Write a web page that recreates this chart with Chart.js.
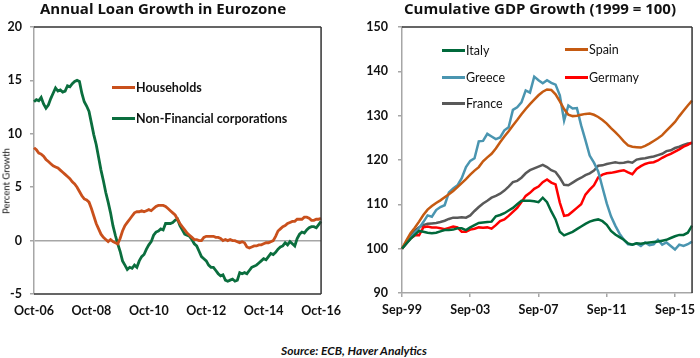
<!DOCTYPE html>
<html>
<head>
<meta charset="utf-8">
<script src="https://cdn.jsdelivr.net/npm/chart.js@4.4.0/dist/chart.umd.min.js"></script>
<style>
  body { margin: 0; background: #fff; font-family: Lato, sans-serif; color: #111; }
  #page { position: relative; width: 700px; height: 358px; overflow: hidden; }
  .wrap { position: absolute; top: 0; width: 350px; height: 325px; }
  .title { position: absolute; top: -2px; font-family: 'Open Sans', sans-serif; font-weight: bold; font-size: 15px; white-space: nowrap; transform: translateX(-50%); }
  .ytitle { position: absolute; font-size: 9.5px; white-space: nowrap; transform: translate(-50%, -50%) rotate(-90deg); }
  .key { position: absolute; height: 3px; width: 23px; }
  .lab { position: absolute; font-size: 12.5px; white-space: nowrap; transform: translateY(-50%); }
  .src { position: absolute; left: 354px; top: 350px; transform: translate(-50%, -50%); font-size: 12px; font-weight: bold; font-style: italic; white-space: nowrap; }
</style>
</head>
<body>
<div id="page">
  <div class="wrap" style="left:0"><canvas id="loanChart"></canvas></div>
  <div class="wrap" style="left:350px"><canvas id="gdpChart"></canvas></div>
  <div class="title" style="left:163px">Annual Loan Growth in Eurozone</div>
  <div class="title" style="left:540px">Cumulative GDP Growth (1999 = 100)</div>
  <div class="ytitle" style="left:6px; top:181px">Percent Growth</div>
  <div id="legends"></div>
  <div class="src">Source: ECB, Haver Analytics</div>
</div>
<script>
// left chart: monthly, Oct-06 .. Oct-16
const loanTicks = ['Oct-06', 'Oct-08', 'Oct-10', 'Oct-12', 'Oct-14', 'Oct-16'];
const households = [
  8.7, 8.5, 8.2, 8.1, 7.9, 7.6, 7.4, 7.2, 7.0, 6.9, 6.8, 6.6, 6.4, 6.2, 6.0, 5.8, 5.5, 5.3, 5.0, 4.6,
  4.2, 3.9, 3.8, 3.6, 3.0, 2.3, 1.6, 1.1, 0.6, 0.3, 0.1, -0.1, 0.1, -0.1, -0.2, -0.3, 0.2, 0.9, 1.4, 1.7,
  2.0, 2.3, 2.6, 2.7, 2.7, 2.8, 2.7, 2.8, 2.9, 2.8, 3.0, 3.2, 3.3, 3.3, 3.3, 3.2, 3.0, 2.8, 2.6, 2.4,
  2.0, 1.6, 1.3, 1.0, 0.7, 0.5, 0.3, 0.1, 0.1, 0.0, 0.0, 0.3, 0.4, 0.4, 0.4, 0.4, 0.3, 0.3, 0.2, 0.0,
  0.1, 0.0, 0.1, 0.0, 0.0, -0.1, -0.2, -0.1, -0.2, -0.6, -0.7, -0.6, -0.5, -0.5, -0.4, -0.4, -0.3, -0.2, -0.2, -0.1,
  0.0, 0.4, 0.9, 1.1, 1.3, 1.4, 1.6, 1.7, 1.8, 1.8, 2.0, 2.0, 2.0, 2.2, 2.2, 2.1, 1.9, 1.9, 2.0, 2.0,
  2.1
];
const nonFinancial = [
  13.0, 13.2, 13.1, 13.4, 12.8, 12.4, 12.7, 13.3, 13.8, 14.3, 14.0, 14.1, 13.9, 14.0, 14.5, 14.4, 14.7, 14.9, 15.0, 14.9,
  13.8, 13.0, 12.6, 12.1, 11.0, 9.9, 9.0, 7.8, 6.6, 5.6, 4.5, 3.6, 2.6, 1.4, 0.5, -0.3, -1.0, -1.9, -2.3, -2.7,
  -2.5, -2.6, -2.3, -2.5, -1.9, -1.5, -1.3, -0.8, -0.4, -0.1, 0.5, 0.8, 0.9, 1.1, 1.0, 1.6, 1.6, 1.6, 1.7, 1.9,
  2.0, 1.4, 1.0, 0.6, 0.5, 0.4, 0.1, -0.3, -0.5, -1.0, -1.5, -1.7, -1.9, -2.3, -2.5, -2.5, -2.8, -3.1, -3.3, -3.2,
  -3.7, -3.8, -3.7, -3.6, -3.8, -3.7, -3.0, -3.1, -3.0, -3.1, -2.8, -2.5, -2.4, -2.3, -2.1, -1.9, -1.7, -1.8, -1.5, -1.2,
  -1.3, -1.1, -0.8, -0.6, -0.5, -0.2, -0.4, -0.1, -0.3, -0.5, 0.2, 0.6, 0.8, 0.7, 1.0, 1.2, 1.3, 1.3, 1.2, 1.5,
  1.8
];

// right chart: quarterly, Sep-99 .. Sep-16
const gdpTicks = ['Sep-99', 'Sep-03', 'Sep-07', 'Sep-11', 'Sep-15'];
const italy = [
  100, 101.1, 102.2, 103.1, 104.0, 103.8, 103.6, 103.5, 103.6, 103.9, 104.2, 104.2, 104.3, 104.6, 104.6, 104.2, 104.8, 105.3, 105.8, 105.9,
  106.0, 106.1, 107.3, 107.6, 108.0, 108.6, 109.2, 110.0, 110.8, 110.8, 110.8, 110.7, 110.5, 111.5, 110.5, 108.4, 106.6, 103.8, 103.0, 103.4,
  103.8, 104.4, 105.0, 105.6, 106.1, 106.4, 106.6, 106.2, 105.4, 104.0, 103.2, 102.6, 102.0, 101.2, 100.9, 101.2, 101.1, 101.3, 101.4, 101.5,
  101.6, 101.8, 102.0, 102.4, 102.8, 103.1, 103.1, 103.6, 105.2
];
const spain = [
  100, 101.8, 103.5, 104.7, 106.1, 107.6, 108.8, 109.6, 110.3, 110.9, 111.6, 112.3, 113.0, 113.9, 114.8, 115.7, 116.7, 117.6, 118.4, 119.7,
  120.6, 121.4, 122.6, 124.0, 125.3, 126.5, 127.8, 129.0, 130.3, 131.5, 132.6, 133.6, 134.6, 135.4, 135.9, 135.8, 134.8, 133.2, 131.5, 130.2,
  129.9, 130.0, 130.2, 130.4, 130.5, 130.2, 129.7, 129.0, 128.2, 127.2, 126.3, 125.3, 124.2, 123.3, 123.0, 122.9, 122.8, 123.2, 123.7, 124.3,
  124.9, 125.6, 126.6, 127.6, 128.6, 129.9, 131.1, 132.3, 133.4
];
const greece = [
  100, 101.2, 102.4, 103.6, 104.6, 106.0, 107.5, 107.2, 108.7, 109.4, 109.8, 112.7, 113.6, 114.3, 115.9, 118.4, 119.8, 120.4, 124.2, 124.3,
  125.9, 125.3, 124.7, 125.1, 126.7, 127.4, 131.3, 131.9, 133.0, 135.7, 135.2, 138.8, 138.0, 137.3, 138.0, 137.4, 137.0, 134.6, 128.9, 132.3,
  131.6, 131.7, 127.8, 124.5, 121.0, 119.4, 117.4, 113.8, 110.2, 107.3, 105.2, 103.4, 102.0, 101.0, 100.9, 101.2, 100.6, 101.4, 100.8, 101.0,
  102.0, 100.9, 101.4, 100.6, 99.8, 100.9, 100.6, 101.0, 101.6
];
const germany = [
  100, 101.2, 102.3, 103.0, 103.0, 104.8, 105.0, 104.8, 104.8, 104.6, 104.4, 104.7, 105.0, 104.8, 103.8, 103.8, 104.3, 104.5, 104.8, 104.7,
  104.8, 104.5, 105.3, 106.2, 106.6, 107.4, 108.3, 109.2, 110.5, 111.9, 112.6, 113.5, 114.0, 115.0, 115.6, 114.9, 114.5, 110.4, 107.4, 107.6,
  108.4, 109.2, 110.0, 112.2, 113.3, 114.3, 116.1, 116.7, 117.0, 117.1, 117.3, 117.5, 117.7, 117.2, 116.8, 118.0, 118.6, 119.1, 119.4, 119.5,
  119.9, 120.5, 121.0, 121.4, 121.9, 122.4, 123.0, 123.4, 124.0
];
const france = [
  100, 101.5, 102.8, 104.0, 104.8, 105.3, 105.6, 105.7, 105.8, 106.0, 106.3, 106.7, 107.0, 107.0, 107.1, 107.0, 107.5, 108.5, 109.4, 110.2,
  110.8, 111.5, 111.9, 112.4, 113.1, 114.0, 115.0, 115.3, 116.0, 117.0, 117.7, 118.1, 118.5, 118.9, 118.4, 117.7, 117.3, 116.0, 114.4, 114.3,
  114.9, 115.5, 116.0, 116.6, 117.0, 117.6, 118.7, 118.8, 119.1, 119.3, 119.5, 119.3, 119.4, 119.6, 119.4, 120.1, 120.3, 120.4, 120.6, 120.8,
  121.1, 121.4, 122.0, 122.2, 122.7, 123.0, 123.4, 123.7, 123.8
];

const monNames = ['Jan', 'Feb', 'Mar', 'Apr', 'May', 'Jun', 'Jul', 'Aug', 'Sep', 'Oct', 'Nov', 'Dec'];
const loanLabels = households.map((v, i) => monNames[(9 + i) % 12] + '-' + String((6 + Math.floor((9 + i) / 12)) % 100).padStart(2, '0'));
const gdpLabels = italy.map((v, q) => monNames[(8 + 3 * q) % 12] + '-' + String((99 + Math.floor((8 + 3 * q) / 12)) % 100).padStart(2, '0'));

const GRAY = '#A6A6A6';
const tickFont = { family: 'Lato', size: 12.5, weight: 'bold' };

// draws the dark frame sides round the plot area
const frame = {
  id: 'frame',
  afterDraw(chart, args, opts) {
    const { ctx, chartArea: a } = chart;
    ctx.save();
    ctx.strokeStyle = '#333';
    ctx.lineWidth = 1.5;
    ctx.beginPath();
    if (opts.top) { ctx.moveTo(a.left, a.top); ctx.lineTo(a.right, a.top); }
    if (opts.right) { ctx.moveTo(a.right, a.top); ctx.lineTo(a.right, a.bottom); }
    if (opts.bottom) { ctx.moveTo(a.left, a.bottom); ctx.lineTo(a.right, a.bottom); }
    ctx.stroke();
    ctx.restore();
  }
};

const line = (label, data, color, w) => ({
  label, data, borderColor: color, backgroundColor: color,
  borderWidth: w, pointRadius: 0, tension: 0, fill: false
});

new Chart(document.getElementById('loanChart'), {
  type: 'line',
  data: {
    labels: loanLabels,
    datasets: [
      line('Households', households, '#C9501C', 2.8),
      line('Non-Financial corporations', nonFinancial, '#0B6E3E', 2.8)
    ]
  },
  options: {
    responsive: true, maintainAspectRatio: false, animation: false,
    layout: { padding: { top: 27, right: 27, left: 0, bottom: 0 } },
    plugins: { legend: { display: false }, tooltip: { enabled: false }, frame: { top: true, right: true, bottom: true } },
    scales: {
      x: {
        grid: { display: false, drawTicks: false }, border: { display: false },
        afterFit: s => { s.height = 31; },
        ticks: {
          autoSkip: false, maxRotation: 0, minRotation: 0, padding: 9, color: '#111', font: tickFont,
          callback: (v, i) => i % 24 === 0 ? loanTicks[i / 24] : null
        }
      },
      y: {
        min: -5, max: 20,
        afterFit: s => { s.width = 34; },
        border: { color: GRAY, width: 1.5 },
        grid: { color: c => c.tick && c.tick.value === 0 ? GRAY : 'rgba(0,0,0,0)', lineWidth: 1.5, tickColor: GRAY, tickLength: 4 },
        ticks: { stepSize: 5, padding: 8, color: '#111', font: tickFont }
      }
    }
  },
  plugins: [frame]
});

const gdpSeries = [
  ['Italy', italy, '#00693B'],
  ['Spain', spain, '#C55A11'],
  ['Greece', greece, '#4A95B0'],
  ['Germany', germany, '#FF0000'],
  ['France', france, '#595959']
];

new Chart(document.getElementById('gdpChart'), {
  type: 'line',
  data: {
    labels: gdpLabels,
    datasets: gdpSeries.map(s => line(s[0], s[1], s[2], 2.5))
  },
  options: {
    responsive: true, maintainAspectRatio: false, animation: false,
    layout: { padding: { top: 27, right: 2, left: 0, bottom: 0 } },
    plugins: { legend: { display: false }, tooltip: { enabled: false }, frame: { top: true, right: true } },
    scales: {
      x: {
        afterFit: s => { s.height = 32; },
        border: { color: GRAY, width: 1.5 },
        grid: { drawOnChartArea: false, color: GRAY, lineWidth: 1.5, tickLength: 4 },
        ticks: {
          autoSkip: false, maxRotation: 0, minRotation: 0, padding: 5, color: '#111', font: tickFont,
          callback: (v, i) => i % 16 === 0 ? gdpTicks[i / 16] : null
        }
      },
      y: {
        min: 90, max: 150,
        afterFit: s => { s.width = 52; },
        border: { color: GRAY, width: 1.5 },
        grid: { drawOnChartArea: false, color: GRAY, lineWidth: 1.5, tickLength: 4 },
        ticks: { stepSize: 10, padding: 10, color: '#111', font: tickFont }
      }
    }
  },
  plugins: [frame]
});

// legends as html text
const legendItems = [
  ['Households', '#C9501C', 112, 87, true],
  ['Non-Financial corporations', '#0B6E3E', 112, 118, true],
  ['Italy', '#00693B', 442, 50, false],
  ['Spain', '#C55A11', 565, 49, false],
  ['Greece', '#4A95B0', 442, 77, false],
  ['Germany', '#FF0000', 565, 77, false],
  ['France', '#595959', 442, 103, false]
];
const lg = document.getElementById('legends');
legendItems.forEach(([name, color, x, y, bold]) => {
  const k = document.createElement('div');
  k.className = 'key';
  k.style.cssText = `left:${x}px; top:${y - 1.5}px; background:${color}`;
  const t = document.createElement('div');
  t.className = 'lab';
  t.textContent = name;
  t.style.cssText = `left:${x + 24}px; top:${y}px; font-weight:${bold ? 'bold' : 'normal'}`;
  lg.appendChild(k);
  lg.appendChild(t);
});
</script>
</body>
</html>
